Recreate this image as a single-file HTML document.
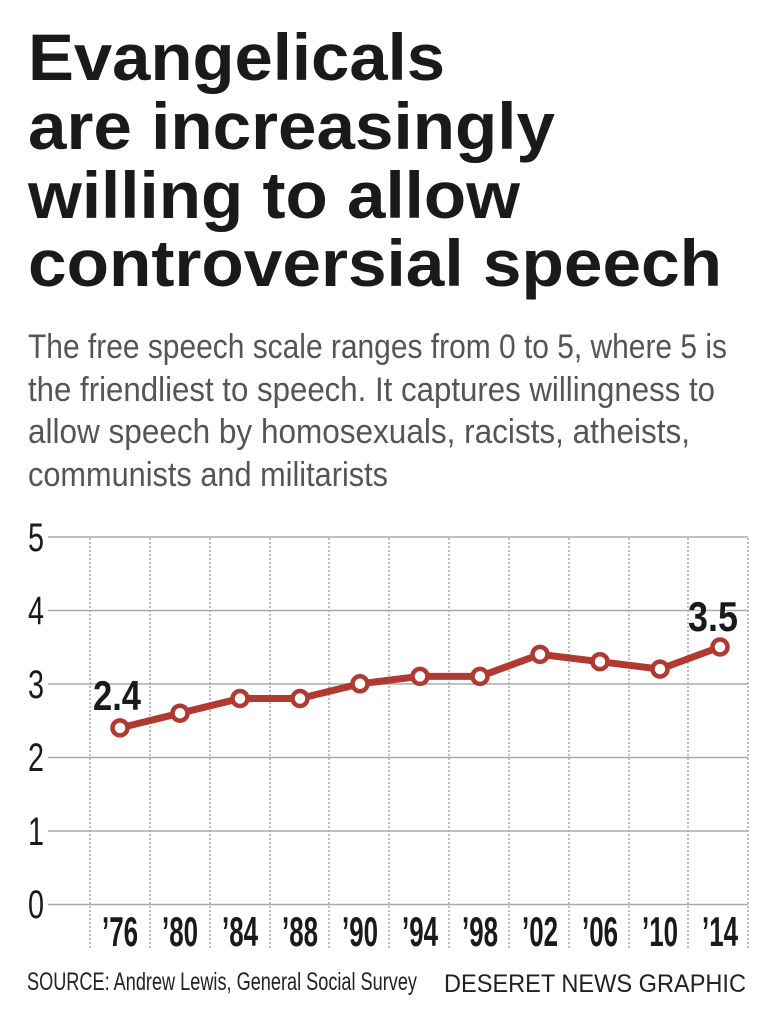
<!DOCTYPE html>
<html><head><meta charset="utf-8"><style>html,body{margin:0;padding:0;background:#fff}</style></head>
<body>
<svg width="770" height="1024" xmlns="http://www.w3.org/2000/svg" font-family="Liberation Sans, sans-serif">
<g font-weight="bold" font-size="66" fill="#1a1a1a">
<text x="28" y="80" textLength="417" lengthAdjust="spacingAndGlyphs">Evangelicals</text>
<text x="28" y="149" textLength="527" lengthAdjust="spacingAndGlyphs">are increasingly</text>
<text x="28" y="218" textLength="492" lengthAdjust="spacingAndGlyphs">willing to allow</text>
<text x="28" y="286" textLength="694" lengthAdjust="spacingAndGlyphs">controversial speech</text>
</g>
<g font-size="34" fill="#555">
<text x="28" y="358" textLength="699" lengthAdjust="spacingAndGlyphs">The free speech scale ranges from 0 to 5, where 5 is</text>
<text x="28" y="401" textLength="687" lengthAdjust="spacingAndGlyphs">the friendliest to speech. It captures willingness to</text>
<text x="28" y="443" textLength="662" lengthAdjust="spacingAndGlyphs">allow speech by homosexuals, racists, atheists,</text>
<text x="28" y="486" textLength="360" lengthAdjust="spacingAndGlyphs">communists and militarists</text>
</g>
<g stroke="#999" stroke-width="1.3" stroke-dasharray="2,2">
<line x1="90" y1="538" x2="90" y2="950"/><line x1="150" y1="538" x2="150" y2="950"/><line x1="210" y1="538" x2="210" y2="950"/><line x1="270" y1="538" x2="270" y2="950"/><line x1="329" y1="538" x2="329" y2="950"/><line x1="389" y1="538" x2="389" y2="950"/><line x1="449" y1="538" x2="449" y2="950"/><line x1="509" y1="538" x2="509" y2="950"/><line x1="569" y1="538" x2="569" y2="950"/><line x1="629" y1="538" x2="629" y2="950"/><line x1="688" y1="538" x2="688" y2="950"/><line x1="748" y1="538" x2="748" y2="950"/>
</g>
<g stroke="#aaa" stroke-width="1.5">
<line x1="48" y1="537" x2="748" y2="537"/><line x1="48" y1="610.5" x2="748" y2="610.5"/><line x1="48" y1="684" x2="748" y2="684"/><line x1="48" y1="757.5" x2="748" y2="757.5"/><line x1="48" y1="831" x2="748" y2="831"/><line x1="48" y1="904.5" x2="748" y2="904.5"/>
</g>
<g font-size="40" fill="#1a1a1a">
<text x="28" y="551" textLength="16" lengthAdjust="spacingAndGlyphs">5</text>
<text x="28" y="624" textLength="16" lengthAdjust="spacingAndGlyphs">4</text>
<text x="28" y="698" textLength="16" lengthAdjust="spacingAndGlyphs">3</text>
<text x="28" y="771" textLength="16" lengthAdjust="spacingAndGlyphs">2</text>
<text x="28" y="845" textLength="16" lengthAdjust="spacingAndGlyphs">1</text>
<text x="28" y="918" textLength="16" lengthAdjust="spacingAndGlyphs">0</text>
</g>
<polyline fill="none" stroke="#b03a32" stroke-width="7" stroke-linejoin="round" points="120,727.9 180,713.2 240,698.5 300,698.5 360,683.8 420,676.4 480,676.4 540,654.4 600,661.7 660,669.1 720,647"/>
<g fill="#fff" stroke="#b03a32" stroke-width="4.5">
<circle cx="120" cy="727.9" r="7.5"/><circle cx="180" cy="713.2" r="7.5"/><circle cx="240" cy="698.5" r="7.5"/><circle cx="300" cy="698.5" r="7.5"/><circle cx="360" cy="683.8" r="7.5"/><circle cx="420" cy="676.4" r="7.5"/><circle cx="480" cy="676.4" r="7.5"/><circle cx="540" cy="654.4" r="7.5"/><circle cx="600" cy="661.7" r="7.5"/><circle cx="660" cy="669.1" r="7.5"/><circle cx="720" cy="647" r="7.5"/>
</g>
<g font-weight="bold" font-size="42" fill="#1a1a1a">
<text x="93" y="710" textLength="48" lengthAdjust="spacingAndGlyphs">2.4</text>
<text x="688" y="631" textLength="50" lengthAdjust="spacingAndGlyphs">3.5</text>
</g>
<g font-weight="bold" font-size="42" fill="#1a1a1a" text-anchor="middle">
<text x="120" y="946" textLength="36" lengthAdjust="spacingAndGlyphs">’76</text>
<text x="180" y="946" textLength="36" lengthAdjust="spacingAndGlyphs">’80</text>
<text x="240" y="946" textLength="36" lengthAdjust="spacingAndGlyphs">’84</text>
<text x="300" y="946" textLength="36" lengthAdjust="spacingAndGlyphs">’88</text>
<text x="360" y="946" textLength="36" lengthAdjust="spacingAndGlyphs">’90</text>
<text x="420" y="946" textLength="36" lengthAdjust="spacingAndGlyphs">’94</text>
<text x="480" y="946" textLength="36" lengthAdjust="spacingAndGlyphs">’98</text>
<text x="540" y="946" textLength="36" lengthAdjust="spacingAndGlyphs">’02</text>
<text x="600" y="946" textLength="36" lengthAdjust="spacingAndGlyphs">’06</text>
<text x="660" y="946" textLength="36" lengthAdjust="spacingAndGlyphs">’10</text>
<text x="720" y="946" textLength="36" lengthAdjust="spacingAndGlyphs">’14</text>
</g>
<text x="27" y="990" font-size="25" fill="#222" textLength="390" lengthAdjust="spacingAndGlyphs">SOURCE: Andrew Lewis, General Social Survey</text>
<text x="444" y="992" font-size="25" fill="#222" textLength="302" lengthAdjust="spacingAndGlyphs">DESERET NEWS GRAPHIC</text>
</svg>
</body></html>
